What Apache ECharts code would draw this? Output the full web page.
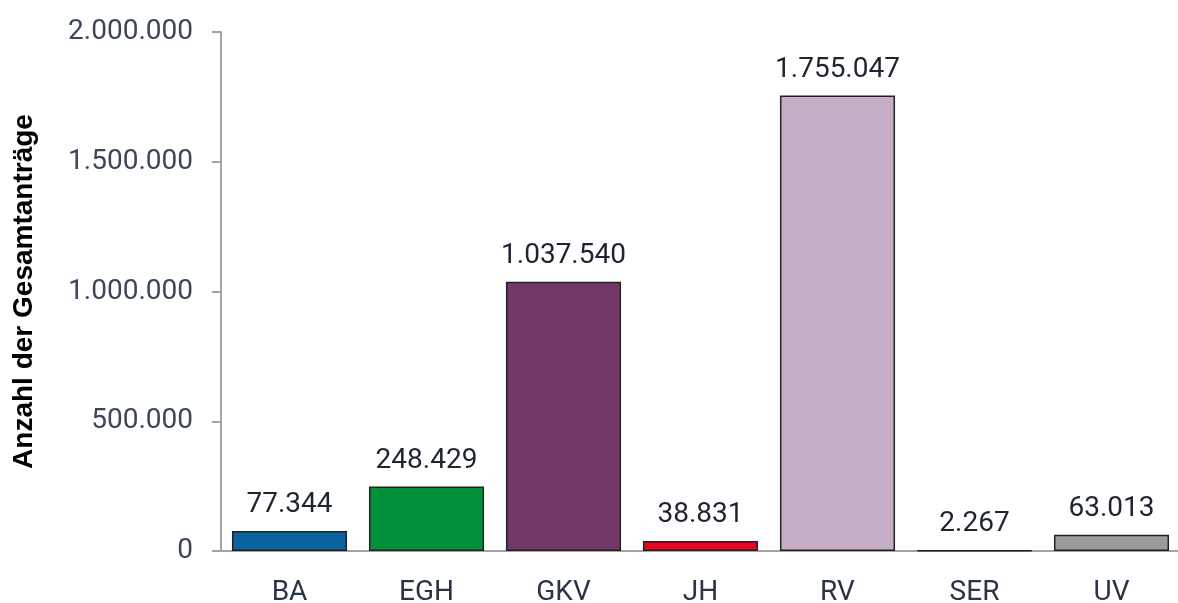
<!DOCTYPE html>
<html><head><meta charset="utf-8">
<script src="https://cdn.jsdelivr.net/npm/echarts@6/dist/echarts.min.js"></script>
<style>html,body{margin:0;padding:0;background:#fff}#c{width:1178px;height:603px}</style>
</head><body><div id="c"></div>
<script>
const categories = ['BA','EGH','GKV','JH','RV','SER','UV'];
const values = [77344, 248429, 1037540, 38831, 1755047, 2267, 63013];
const barColors = ['#0b649f','#00913a','#723866','#e3081b','#c5aec5','#ffffff','#9b9b9b'];
const yTicks = [0, 500000, 1000000, 1500000, 2000000];
const yName = 'Anzahl der Gesamtanträge';

function de(n){ return String(n).replace(/\B(?=(\d{3})+(?!\d))/g,'.'); }

const chart = echarts.init(document.getElementById('c'));
chart.setOption({
  animation:false,
  grid:{left:221, top:32, width:959, height:519, outerBoundsMode:'none', containLabel:false},
  xAxis:{type:'category', data:categories,
    axisLine:{lineStyle:{color:'#a3a3a3', width:2}},
    axisTick:{length:10, lineStyle:{color:'#a3a3a3', width:2}},
    axisLabel:{margin:28, fontFamily:'Roboto', fontSize:28, color:'#2a3446'}},
  yAxis:{type:'value', min:yTicks[0], max:yTicks[yTicks.length-1], interval:yTicks[1]-yTicks[0],
    name:yName, nameLocation:'middle', nameGap:183, nameRotate:90,
    nameTextStyle:{fontFamily:'Liberation Sans', fontWeight:'bold', fontSize:28, color:'#000'},
    axisLine:{show:true, lineStyle:{color:'#a3a3a3', width:2}},
    axisTick:{show:true, length:9, lineStyle:{color:'#a3a3a3', width:2}},
    splitLine:{show:false},
    axisLabel:{margin:28, fontFamily:'Roboto', fontSize:28, color:'#3b4659', formatter:v=>de(v)}},
  series:[{type:'bar', data:values.map((v,i)=>({value:v, itemStyle:{color:barColors[i]}})),
    barCategoryGap:'16%',
    itemStyle:{borderColor:'#222', borderWidth:1.5},
    label:{show:true, position:'top', distance:12, fontFamily:'Roboto', fontSize:28, color:'#1e2430', formatter:p=>de(p.value)}}]
});
</script></body></html>
